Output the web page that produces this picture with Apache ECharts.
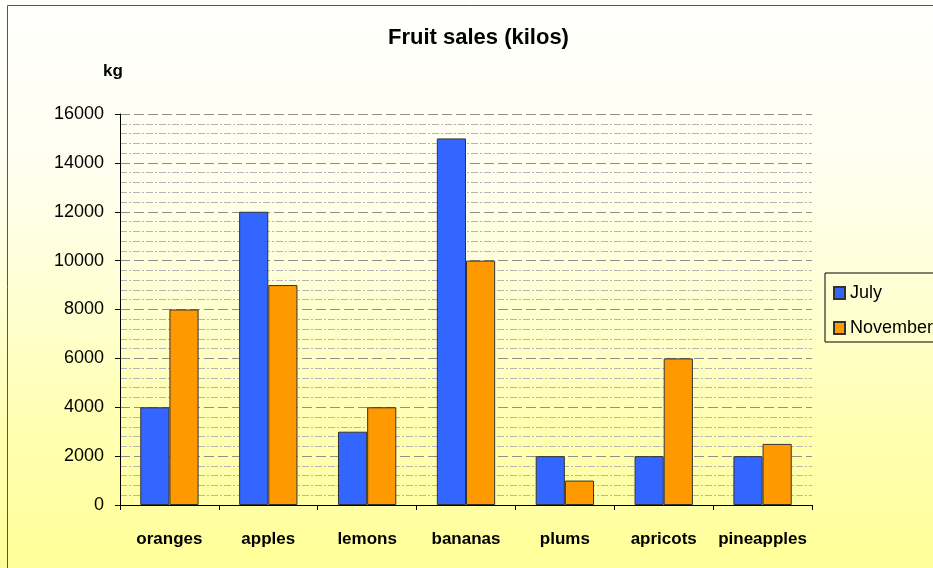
<!DOCTYPE html>
<html>
<head>
<meta charset="utf-8">
<script src="https://cdn.jsdelivr.net/npm/echarts@6/dist/echarts.min.js"></script>
<style>
html,body{margin:0;padding:0;background:#fff;}
#c{width:933px;height:568px;}
</style>
</head>
<body>
<div id="c"></div>
<script>
const categories = ['oranges','apples','lemons','bananas','plums','apricots','pineapples'];
const july = [4000, 12000, 3000, 15000, 2000, 2000, 2000];
const november = [8000, 9000, 4000, 10000, 1000, 6000, 2500];
const yTicks = [0, 2000, 4000, 6000, 8000, 10000, 12000, 14000, 16000];

const chart = echarts.init(document.getElementById('c'), null, {renderer:'canvas'});
const font = 'Liberation Sans, Arial, sans-serif';
chart.setOption({
  backgroundColor: {
    type: 'linear', x: 0, y: 0, x2: 0, y2: 1,
    colorStops: [
      {offset: 0, color: '#fffffd'},
      {offset: 0.3, color: '#fffff0'},
      {offset: 0.5, color: '#ffffd6'},
      {offset: 0.75, color: '#ffffb2'},
      {offset: 1, color: '#ffff99'}
    ]
  },
  animation: false,
  graphic: [{
    type: 'rect', shape: {x: 7.5, y: 5.5, width: 940, height: 580},
    style: {fill: 'none', stroke: '#555', lineWidth: 1}, silent: true
  }, {
    type: 'text', left: 103, top: 63,
    style: {text: 'kg', font: 'bold 17px ' + font, fill: '#000'}
  }],
  title: {
    text: 'Fruit sales (kilos)', left: 383, top: 22,
    textStyle: {fontFamily: font, fontSize: 22, fontWeight: 'bold', color: '#000'}
  },
  legend: {
    orient: 'vertical', left: 825, top: 273,
    padding: [11, 20, 5, 8],
    itemWidth: 11, itemHeight: 12, itemGap: 17,
    borderColor: '#000', borderWidth: 1,
    icon: 'rect',
    textStyle: {fontFamily: font, fontSize: 18, color: '#000'},
    data: ['July', 'November']
  },
  grid: {left: 120, right: 121, top: 114, bottom: 63, containLabel: false},
  xAxis: {
    type: 'category', data: categories,
    axisLine: {lineStyle: {color: '#000', width: 1}},
    axisTick: {show: true, length: 5, lineStyle: {color: '#000'}},
    axisLabel: {interval: 0, margin: 26, fontFamily: font, fontSize: 17, fontWeight: 'bold', color: '#000'}
  },
  yAxis: {
    type: 'value', min: yTicks[0], max: yTicks[yTicks.length - 1], interval: 2000,
    axisLine: {show: true, lineStyle: {color: '#000', width: 1}},
    axisTick: {show: true, length: 5, lineStyle: {color: '#000'}},
    axisLabel: {margin: 16, fontFamily: font, fontSize: 18, color: '#000', formatter: v => String(v)},
    splitLine: {show: true, lineStyle: {color: '#8f8f8f', type: [10, 4], width: 1}},
    minorTick: {show: false, splitNumber: 5},
    minorSplitLine: {show: true, lineStyle: {color: '#b5b5b5', type: [7, 2, 2, 2], width: 1}}
  },
  series: [{
    name: 'July', type: 'bar', data: july,
    barGap: '0%', barCategoryGap: '41%',
    itemStyle: {color: '#3366ff', borderColor: '#333', borderWidth: 1}
  }, {
    name: 'November', type: 'bar', data: november,
    itemStyle: {color: '#ff9900', borderColor: '#333', borderWidth: 1}
  }]
});
</script>
</body>
</html>
